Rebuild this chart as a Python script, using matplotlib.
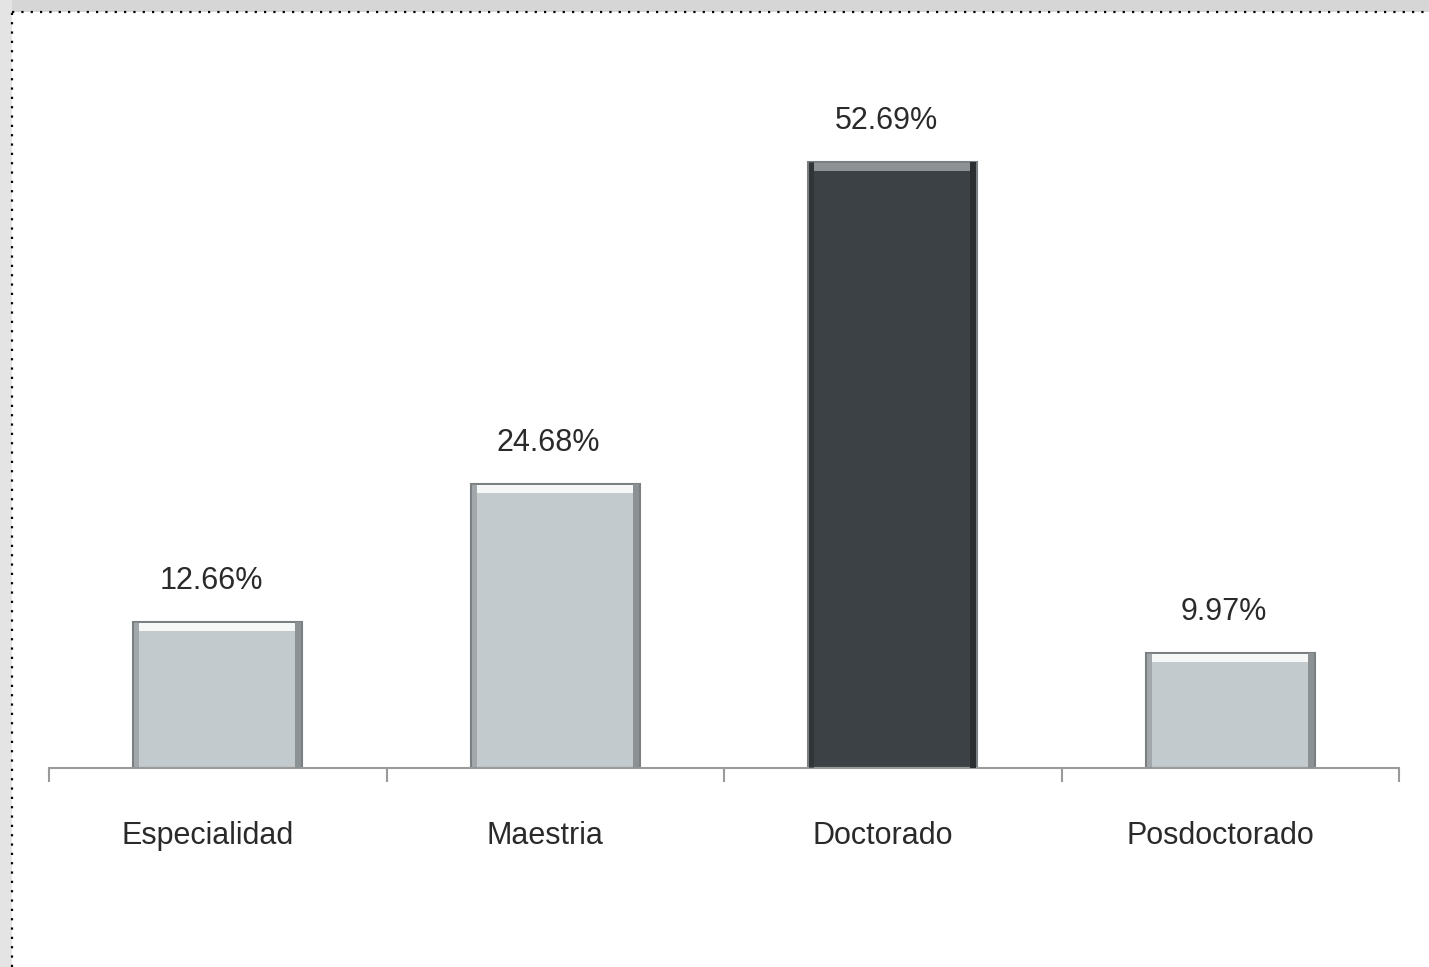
import numpy as np
import matplotlib
matplotlib.use('Agg')
import matplotlib.pyplot as plt
from matplotlib.lines import Line2D
from matplotlib.patches import Rectangle

plt.rcParams['font.family'] = ['Liberation Sans', 'DejaVu Sans']

# datos
categorias = ['Especialidad', 'Maestria', 'Doctorado', 'Posdoctorado']
valores = [12.66, 24.68, 52.69, 9.97]
colores = ['#c2cacd', '#c2cacd', '#3b4144', '#c2cacd']
brillo = ['#f6f7f7', '#f6f7f7', '#8e9294', '#f6f7f7']
sombra = ['#8c9194', '#8c9194', '#2a2e30', '#8c9194']

fig = plt.figure(figsize=(14.29, 9.67), dpi=100, facecolor='white')

# fondo gris fuera del marco punteado
fig.patches.append(Rectangle((0, 1 - 12/967), 1, 12/967, transform=fig.transFigure,
                             facecolor='#d6d6d6', edgecolor='none', zorder=0))
fig.patches.append(Rectangle((0, 0), 12/1429, 1, transform=fig.transFigure,
                             facecolor='#e4e4e4', edgecolor='none', zorder=0))
# marco punteado
fig.lines.append(Line2D([12/1429, 1], [1 - 12/967, 1 - 12/967], transform=fig.transFigure,
                        color='black', lw=1.6, linestyle=(0, (1, 3.2))))
fig.lines.append(Line2D([12/1429, 12/1429], [0, 1 - 12/967], transform=fig.transFigure,
                        color='black', lw=1.6, linestyle=(0, (1, 3.2))))

ax = fig.add_axes([49/1429, (967-768)/967, (1399-49)/1429, (768-78)/967])
x = np.arange(len(categorias))
ancho = 0.5
ax.bar(x, valores, width=ancho, color=colores, edgecolor='#7a7f82', linewidth=1.5, zorder=2)
# bisel: brillo arriba, sombra a los lados
ax.bar(x, [0.7]*len(valores), bottom=[v - 0.75 for v in valores], width=ancho*0.93,
       color=brillo, edgecolor='none', zorder=3)
ax.bar(x + ancho/2 - 0.012, valores, width=0.018, color=sombra, edgecolor='none', zorder=3)
ax.bar(x - ancho/2 + 0.01, valores, width=0.014, color=sombra, edgecolor='none', alpha=0.6, zorder=3)

for xi, v in zip(x, valores):
    ax.text(xi - 0.02, v + 2.3, f'{v:.2f}%', ha='center', va='bottom', fontsize=22, color='#2a2a2a')

ax.set_xlim(-0.5, len(categorias) - 0.5)
ax.set_ylim(0, 60)
ax.set_yticks([])
for s in ['top', 'right', 'left']:
    ax.spines[s].set_visible(False)
ax.spines['bottom'].set_color('#9a9a9a')
ax.spines['bottom'].set_linewidth(1.5)

ax.set_xticks(np.arange(-0.5, len(categorias), 1.0))
ax.set_xticklabels([])
ax.tick_params(axis='x', length=10, width=1.5, color='#9a9a9a', direction='out')
for xi, c in zip(x, categorias):
    ax.text(xi - 0.03, -5.9, c, ha='center', va='center', fontsize=22, color='#2a2a2a')

fig.savefig('out.png', dpi=100, facecolor='white')
